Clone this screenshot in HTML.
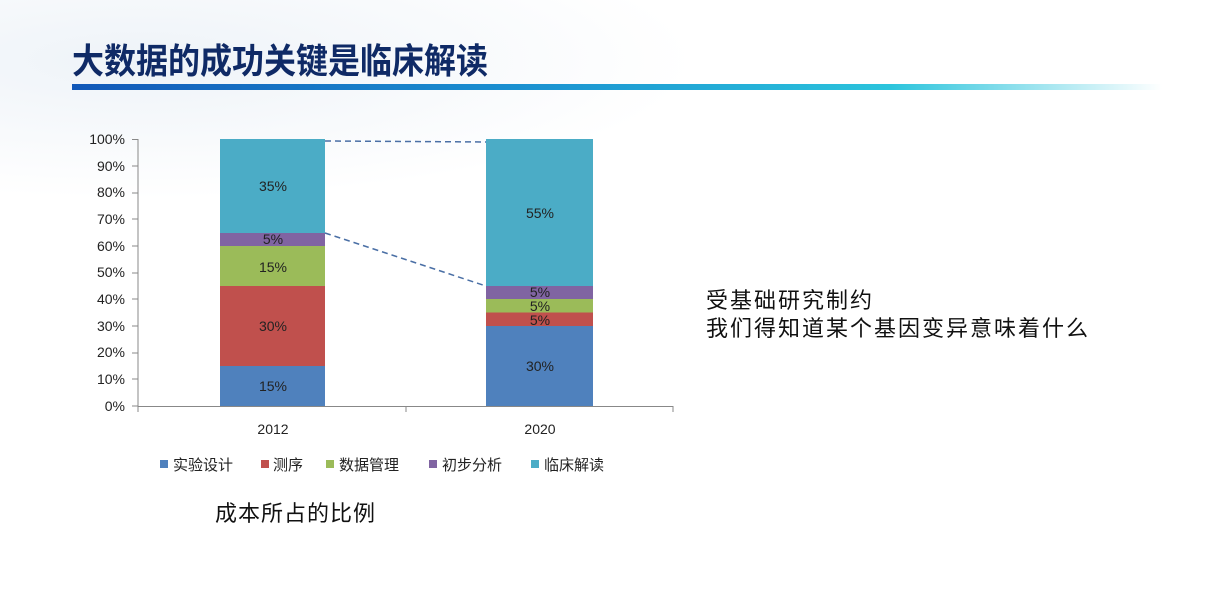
<!DOCTYPE html>
<html><head><meta charset="utf-8"><style>
body{margin:0;width:1210px;height:605px;background:#fff;overflow:hidden;position:relative;font-family:"Liberation Sans","Noto Sans CJK SC",sans-serif}
.bg{position:absolute;left:0;top:0;width:700px;height:200px;background:radial-gradient(ellipse at 20% 30%,#eef3f8 0%,#fff 70%)}
.title{position:absolute;left:72px;top:34px;font-size:32px;font-weight:bold;color:#0f2a66;letter-spacing:0;font-family:"Noto Sans CJK SC",sans-serif;transform:scaleY(1.1);transform-origin:left top}
.bar{position:absolute;left:72px;top:84px;width:1090px;height:6px;background:linear-gradient(90deg,#1258b8 0%,#1a8fd0 40%,#2bc4dc 75%,rgba(255,255,255,0) 100%)}
.t{position:absolute;font-size:22px;color:#111;font-family:"Noto Sans CJK SC",sans-serif}
</style></head><body>
<div class="bg"></div>
<div class="title">大数据的成功关键是临床解读</div>
<div class="bar"></div>
<svg width="1210" height="605" style="position:absolute;left:0;top:0" font-family="Liberation Sans,Noto Sans CJK SC,sans-serif">
<g font-size="14" fill="#222" text-anchor="end">
<text x="125" y="411">0%</text><text x="125" y="384">10%</text><text x="125" y="357">20%</text><text x="125" y="331">30%</text><text x="125" y="304">40%</text><text x="125" y="277">50%</text><text x="125" y="251">60%</text><text x="125" y="224">70%</text><text x="125" y="197">80%</text><text x="125" y="171">90%</text><text x="125" y="144">100%</text>
</g>
<g stroke="#888" stroke-width="1">
<line x1="138" y1="139" x2="138" y2="406"/><line x1="138" y1="406.5" x2="673" y2="406.5"/>
<line x1="132" y1="139.5" x2="138" y2="139.5"/><line x1="132" y1="166" x2="138" y2="166"/><line x1="132" y1="193" x2="138" y2="193"/><line x1="132" y1="219" x2="138" y2="219"/><line x1="132" y1="246" x2="138" y2="246"/><line x1="132" y1="273" x2="138" y2="273"/><line x1="132" y1="299" x2="138" y2="299"/><line x1="132" y1="326" x2="138" y2="326"/><line x1="132" y1="353" x2="138" y2="353"/><line x1="132" y1="379" x2="138" y2="379"/><line x1="132" y1="406" x2="138" y2="406"/>
<line x1="406" y1="406" x2="406" y2="412"/><line x1="673" y1="406" x2="673" y2="412"/><line x1="138" y1="406" x2="138" y2="412"/>
</g>
<rect x="220" y="366" width="105" height="40" fill="#4f81bd"/>
<rect x="220" y="286" width="105" height="80" fill="#c0504d"/>
<rect x="220" y="246" width="105" height="40" fill="#9bbb59"/>
<rect x="220" y="233" width="105" height="13" fill="#8064a2"/>
<rect x="220" y="139" width="105" height="94" fill="#4bacc6"/>
<rect x="486" y="326" width="107" height="80" fill="#4f81bd"/>
<rect x="486" y="312.5" width="107" height="13.5" fill="#c0504d"/>
<rect x="486" y="299" width="107" height="13.5" fill="#9bbb59"/>
<rect x="486" y="286" width="107" height="13" fill="#8064a2"/>
<rect x="486" y="139" width="107" height="147" fill="#4bacc6"/>
<g stroke="#4a6fa5" stroke-width="1.5" stroke-dasharray="6,4">
<line x1="325" y1="141" x2="486" y2="142"/><line x1="325" y1="233" x2="486" y2="286"/>
</g>
<g font-size="14" fill="#222" text-anchor="middle">
<text x="273" y="191">35%</text><text x="273" y="244">5%</text><text x="273" y="272">15%</text><text x="273" y="331">30%</text><text x="273" y="391">15%</text>
<text x="540" y="218">55%</text><text x="540" y="297">5%</text><text x="540" y="311">5%</text><text x="540" y="325">5%</text><text x="540" y="371">30%</text>
<text x="273" y="434">2012</text><text x="540" y="434">2020</text>
</g>
<g font-size="15" fill="#222">
<rect x="160" y="460" width="8" height="8" fill="#4f81bd"/><text x="173" y="470">实验设计</text>
<rect x="261" y="460" width="8" height="8" fill="#c0504d"/><text x="273" y="470">测序</text>
<rect x="326" y="460" width="8" height="8" fill="#9bbb59"/><text x="339" y="470">数据管理</text>
<rect x="429" y="460" width="8" height="8" fill="#8064a2"/><text x="442" y="470">初步分析</text>
<rect x="531" y="460" width="8" height="8" fill="#4bacc6"/><text x="544" y="470">临床解读</text>
</g>
</svg>
<div class="t" style="left:215px;top:496px;letter-spacing:1px">成本所占的比例</div>
<div class="t" style="left:706px;top:285px;line-height:28px;letter-spacing:2px">受基础研究制约<br>我们得知道某个基因变异意味着什么</div>
</body></html>
